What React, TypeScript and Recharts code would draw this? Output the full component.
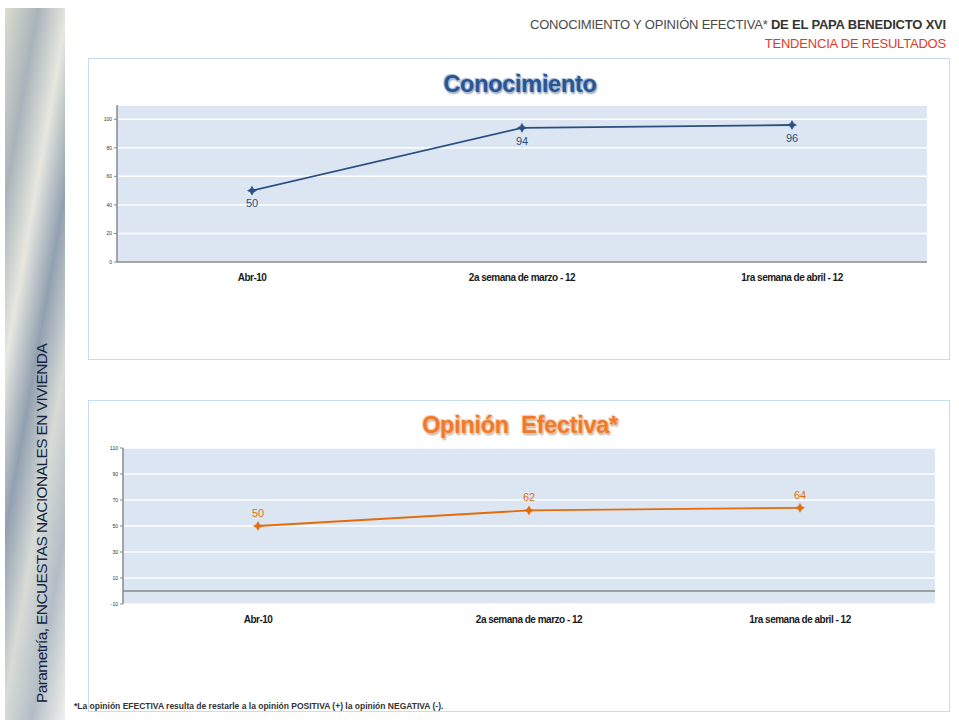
import React from 'react';
import {
    LineChart, Line, XAxis, YAxis, CartesianGrid, LabelList, ReferenceLine
} from 'recharts';

const CATEGORIES = ['Abr-10', '2a semana de marzo - 12', '1ra semana de abril - 12'];
const CONOCIMIENTO = [50, 94, 96];
const OPINION = [50, 62, 64];
const CONOC_TICKS = [0, 20, 40, 60, 80, 100];
const OPINION_TICKS = [-10, 10, 30, 50, 70, 90, 110];

const BLUE = '#2a4f80';
const ORANGE = '#e46c0a';

const conocData = CATEGORIES.map((name, i) => ({ name, value: CONOCIMIENTO[i] }));
const opinionData = CATEGORIES.map((name, i) => ({ name, value: OPINION[i] }));

const StarDot = ({ cx, cy, color }: any) => {
    if (cx == null || cy == null) return null;
    const r = 4.5;
    const w = 1.6;
    return (
        <path
            d={`M${cx},${cy - r} L${cx + w},${cy - w} L${cx + r},${cy} L${cx + w},${cy + w} L${cx},${cy + r} L${cx - w},${cy + w} L${cx - r},${cy} L${cx - w},${cy - w} Z`}
            fill={color}
            stroke={color}
            strokeWidth={0.5}
        />
    );
};

const axisTick = { fontSize: 5, fill: '#333', fontFamily: 'Liberation Sans' };
const catTick = { fontSize: 10, fill: '#1a1a1a', fontWeight: 'bold', fontFamily: 'Liberation Sans', letterSpacing: -0.5 };

const frameStyle: React.CSSProperties = {
    position: 'absolute',
    left: 88,
    width: 862,
    border: '1.5px solid #c9dbf0',
    background: '#fff',
    boxSizing: 'border-box',
};

const titleStyle = (color: string, glow: string): React.CSSProperties => ({
    position: 'absolute',
    left: 0,
    width: 862,
    textAlign: 'center',
    fontFamily: 'Liberation Sans',
    fontWeight: 'bold',
    fontSize: 23.5,
    color,
    textShadow: `0 0 1px ${glow}, 1px 1px 1px ${glow}, -1px -1px 1px ${glow}, 1px 2px 2px rgba(0,0,0,0.35)`,
    letterSpacing: -0.3,
});

export default function App() {
    return (
        <div style={{ position: 'absolute', left: 0, top: 0, width: 959, height: 723, background: '#fff', overflow: 'hidden', fontFamily: 'Liberation Sans' }}>
            {/* left decorative strip */}
            <div style={{
                position: 'absolute', left: 5, top: 8, width: 60, height: 712,
                background: 'linear-gradient(100deg, #d4d6c6 0%, #9aa6ae 18%, #e2e4da 34%, #7f8fa3 50%, #d0d5cf 66%, #a7b2bc 82%, #eceee8 100%)',
                opacity: 0.85,
            }} />
            <div style={{
                position: 'absolute', left: 34, top: 711, transformOrigin: '0 0', transform: 'rotate(-90deg)',
                whiteSpace: 'nowrap', fontSize: 15.5, color: '#14233f', letterSpacing: -0.6, lineHeight: '16px', marginTop: -8,
            }}>
                Parametría, ENCUESTAS NACIONALES EN VIVIENDA
            </div>

            {/* header */}
            <div style={{ position: 'absolute', right: 13, top: 17, fontSize: 13, whiteSpace: 'nowrap', color: '#4a4a4a', letterSpacing: -0.2 }}>
                CONOCIMIENTO Y OPINIÓN EFECTIVA* <span style={{ fontWeight: 'bold', color: '#333' }}>DE EL PAPA BENEDICTO XVI</span>
            </div>
            <div style={{ position: 'absolute', right: 13, top: 36, fontSize: 13, whiteSpace: 'nowrap', color: '#e03a2a', letterSpacing: -0.2 }}>
                TENDENCIA DE RESULTADOS
            </div>

            {/* top chart */}
            <div style={{ ...frameStyle, top: 58, height: 302 }}>
                <div style={{ ...titleStyle('#2b5591', '#9fb6d6'), top: 12 }}>Conocimiento</div>
                <div style={{ position: 'absolute', left: -1.5, top: -1.5 }}>
                    <LineChart width={862} height={302} data={conocData} margin={{ top: 47, right: 23, left: 9, bottom: 68 }}>
                        <CartesianGrid fill="#dce6f2" stroke="#ffffff" strokeWidth={1.5} vertical={false} />
                        <XAxis
                            dataKey="name"
                            tick={catTick}
                            tickLine={false}
                            axisLine={{ stroke: '#888', strokeWidth: 1.5 }}
                            height={30}
                            dy={4}
                            interval={0}
                            padding={{ left: 135, right: 135 }}
                        />
                        <YAxis
                            domain={[0, 110]}
                            ticks={CONOC_TICKS}
                            tick={axisTick}
                            tickLine={{ stroke: '#888' }}
                            tickSize={3}
                            axisLine={{ stroke: '#888', strokeWidth: 1.5 }}
                            width={20}
                            interval={0}
                        />
                        <Line
                            type="linear"
                            dataKey="value"
                            stroke={BLUE}
                            strokeWidth={1.8}
                            dot={<StarDot color={BLUE} />}
                            isAnimationActive={false}
                        >
                            <LabelList dataKey="value" position="bottom" offset={9} fill={BLUE} fontSize={11} fontFamily="Liberation Sans" />
                        </Line>
                    </LineChart>
                </div>
            </div>

            {/* bottom chart */}
            <div style={{ ...frameStyle, top: 400, height: 312 }}>
                <div style={{ ...titleStyle('#f07a2c', '#f6c8a0'), top: 11 }}>Opinión&nbsp;&nbsp;Efectiva*</div>
                <div style={{ position: 'absolute', left: -1.5, top: -1.5 }}>
                    <LineChart width={862} height={312} data={opinionData} margin={{ top: 48, right: 15, left: 15, bottom: 78 }}>
                        <CartesianGrid fill="#dce6f2" stroke="#ffffff" strokeWidth={1.5} vertical={false} />
                        <XAxis
                            dataKey="name"
                            tick={catTick}
                            tickLine={false}
                            axisLine={false}
                            height={30}
                            dy={4}
                            interval={0}
                            padding={{ left: 135, right: 135 }}
                        />
                        <YAxis
                            domain={[-10, 110]}
                            ticks={OPINION_TICKS}
                            tick={axisTick}
                            tickLine={{ stroke: '#888' }}
                            tickSize={3}
                            axisLine={{ stroke: '#888', strokeWidth: 1.5 }}
                            width={20}
                            interval={0}
                        />
                        <ReferenceLine y={0} stroke="#888" strokeWidth={1.5} />
                        <Line
                            type="linear"
                            dataKey="value"
                            stroke={ORANGE}
                            strokeWidth={1.8}
                            dot={<StarDot color={ORANGE} />}
                            isAnimationActive={false}
                        >
                            <LabelList dataKey="value" position="top" offset={9} fill={ORANGE} fontSize={11} fontFamily="Liberation Sans" />
                        </Line>
                    </LineChart>
                </div>
            </div>

            {/* footer note */}
            <div style={{ position: 'absolute', left: 74, top: 701, fontSize: 8.5, fontWeight: 'bold', color: '#333', whiteSpace: 'nowrap' }}>
                *La opinión EFECTIVA resulta de restarle a la opinión POSITIVA (+) la opinión NEGATIVA (-).
            </div>
        </div>
    );
}
